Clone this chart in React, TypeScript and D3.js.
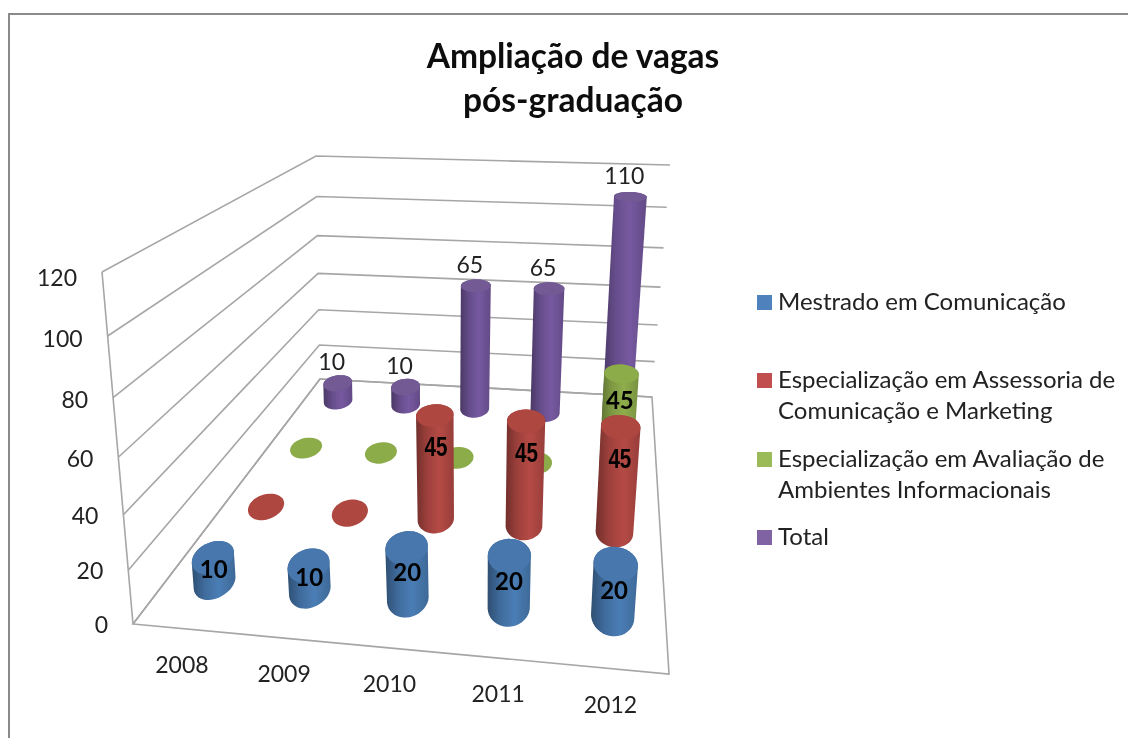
import React from 'react';
import * as d3 from 'd3';

const years = ['2008', '2009', '2010', '2011', '2012'];
const seriesNames = ['Mestrado em Comunicação', 'Especialização em Assessoria de Comunicação e Marketing', 'Especialização em Avaliação de Ambientes Informacionais', 'Total'];
const mestrado = [10, 10, 20, 20, 20];
const assessoria = [0, 0, 45, 45, 45];
const avaliacao = [0, 0, 0, 0, 45];
const total = [10, 10, 65, 65, 110];
const seriesValues = [mestrado, assessoria, avaliacao, total];
const yTicks = [0, 20, 40, 60, 80, 100, 120];
const sideColors = ['#4a7db5', '#b54a45', '#8fae4c', '#7659a0'];
const capColors = ['#4677ad', '#ad463f', '#8cab4a', '#735a95'];
const legendColors = ['#4f81bd', '#c0504d', '#9bbb59', '#8064a2'];
const legendLines = [['Mestrado em Comunicação'], ['Especialização em Assessoria de', 'Comunicação e Marketing'], ['Especialização em Avaliação de', 'Ambientes Informacionais'], ['Total']];
const legendY = [295, 373, 452, 530];
const FONT = 'Lato, "Open Sans", sans-serif';

type P = [number, number];
function quadMap(q: P[]) {
  const [[x0, y0], [x1, y1], [x2, y2], [x3, y3]] = q;
  const dx1 = x1 - x2, dx2 = x3 - x2, sx = x0 - x1 + x2 - x3;
  const dy1 = y1 - y2, dy2 = y3 - y2, sy = y0 - y1 + y2 - y3;
  const det = dx1 * dy2 - dx2 * dy1;
  const g = (sx * dy2 - dx2 * sy) / det, h = (dx1 * sy - sx * dy1) / det;
  const a = x1 - x0 + g * x1, b = x3 - x0 + h * x3, d = y1 - y0 + g * y1, e = y3 - y0 + h * y3;
  return (u: number, v: number): P => {
    const w = g * u + h * v + 1;
    return [(a * u + b * v + x0) / w, (d * u + e * v + y0) / w];
  };
}
const floor = quadMap([[133, 624], [669, 674], [652, 397], [320, 379]]);
const ceil = quadMap([[102, 272], [702, 308], [670, 165], [316, 156]]);
const yScale = d3.scaleLinear().domain([0, 120]).range([0, 1]);
const warp = (t: number) => (t * (1 - 0.1)) / (1 - 0.1 * t);
const project = (u: number, v: number, val: number): P => {
  const a = floor(u, v), b = ceil(u, v), t = warp(yScale(val));
  return [a[0] + (b[0] - a[0]) * t, a[1] + (b[1] - a[1]) * t];
};
const uScale = d3.scaleBand<string>().domain(years).range([0, 1]);
const vScale = d3.scaleBand<number>().domain([0, 1, 2, 3]).range([0, 1]);
const RU = 0.041, RV = 0.05;
const SHEAR = 0.7;
const angles = d3.range(0, 40).map(i => (i / 40) * 2 * Math.PI);
const line = d3.line<P>().curve(d3.curveLinearClosed);

function ringAt(u: number, v: number, h: number): P[] {
  const c = project(u, v, h);
  return angles.map(a => {
    const pu = project(u + RU * Math.cos(a), v, h);
    const pv = project(u, v + RV * Math.sin(a), h);
    return [c[0] + (pu[0] - c[0]) + (pv[0] - c[0]) * SHEAR, c[1] + (pu[1] - c[1]) + (pv[1] - c[1])] as P;
  });
}

function Cylinder({ yi, si }: { yi: number; si: number }) {
  const u = uScale(years[yi])! + uScale.bandwidth() / 2;
  const v = vScale(si)! + vScale.bandwidth() / 2;
  const val = seriesValues[si][yi];
  const bot = ringAt(u, v, 0), top = ringAt(u, v, val);
  const id = `g${si}${yi}`;
  if (val === 0) return <path d={line(bot)!} fill={capColors[si]} />;
  const hull = d3.polygonHull([...bot, ...top])!;
  const xs = d3.extent(hull, p => p[0]) as [number, number];
  const c = d3.color(sideColors[si])!;
  return (
    <g>
      <defs>
        <linearGradient id={id} gradientUnits="userSpaceOnUse" x1={xs[0]} x2={xs[1]} y1={0} y2={0}>
          <stop offset="0" stopColor={c.darker(1.3).toString()} />
          <stop offset="0.3" stopColor={c.darker(0.4).toString()} />
          <stop offset="0.62" stopColor={c.toString()} />
          <stop offset="1" stopColor={c.darker(0.5).toString()} />
        </linearGradient>
      </defs>
      <path d={line(hull as P[])!} fill={`url(#${id})`} />
      <path d={line(top)!} fill={capColors[si]} />
    </g>
  );
}

function DataLabel({ yi, si }: { yi: number; si: number }) {
  const u = uScale(years[yi])! + uScale.bandwidth() / 2;
  const v = vScale(si)! + vScale.bandwidth() / 2;
  const val = seriesValues[si][yi];
  if (val === 0) return null;
  if (si === 3) {
    const [x, y] = project(u, v, val);
    return <text x={x - 6} y={y - 13} textAnchor="middle" fontFamily={FONT} fontSize={23} fill="#222">{val}</text>;
  }
  const [x, y] = project(u, v, val * (si === 1 ? 0.72 : si === 2 ? 0.72 : 0.5));
  return si === 1
    ? <text transform={`translate(${x + 1},${y + 11}) scale(0.86,1.15)`} textAnchor="middle" fontFamily='"Liberation Sans", Arial, sans-serif' fontWeight="bold" fontSize={24} fill="#000">{val}</text>
    : <text x={x} y={y + 8} textAnchor="middle" fontFamily={FONT} fontWeight="bold" fontSize={24} fill="#000">{val}</text>;
}

export default function App() {
  const order: [number, number][] = [];
  for (let si = 3; si >= 0; si--) for (let yi = 0; yi < years.length; yi++) order.push([yi, si]);
  const gridLeft = yTicks.map(t => [project(0, 0, t), project(0, 1, t), project(1, 1, t)] as P[]);
  const floorEdge: P[] = [[0, 0], [1, 0], [1, 1], [0, 1]].map(([u, v]) => project(u, v, 0));
  const axisLine: P[] = [project(0, 0, 0), project(0, 0, 120)];
  return (
    <svg width={1128} height={738} style={{ position: 'absolute', left: 0, top: 0 }}>
      <defs>
        <filter id="soft" x="0" y="0" width="100%" height="100%"><feGaussianBlur stdDeviation="0.45" /></filter>
      </defs>
      <rect width={1128} height={738} fill="#fff" />
      <g filter="url(#soft)">
        <path d="M8.5,738V13.5H1128" fill="none" stroke="#8a8a8a" strokeWidth={3} />
        <text textAnchor="middle" fontFamily={FONT} fontWeight="bold" fontSize={33.5} fill="#111">
          <tspan x={573} y={68}>Ampliação de vagas</tspan>
          <tspan x={573} y={112}>pós-graduação</tspan>
        </text>
        <g fill="none" stroke="#a6a6a6" strokeWidth={1.6}>
          {gridLeft.map((g, i) => <path key={i} d={d3.line()(g)!} />)}
          <path d={d3.line()(axisLine)!} />
          <path d={line(floorEdge)!} />
        </g>
        {yTicks.map(t => {
          const [x, y] = project(0, 0, t);
          return <text key={t} x={x - 25} y={y + 9 + 5 * Math.pow(t / 120, 4)} textAnchor="end" fontFamily={FONT} fontSize={23} fill="#222">{t}</text>;
        })}
        {years.map(yr => {
          const [x, y] = project(uScale(yr)! + uScale.bandwidth() / 2, 0, 0);
          return <text key={yr} x={x - 1} y={y + 44} textAnchor="middle" fontFamily={FONT} fontSize={23} fill="#222">{yr}</text>;
        })}
        {order.map(([yi, si]) => <Cylinder key={`${yi}-${si}`} yi={yi} si={si} />)}
        {order.map(([yi, si]) => <DataLabel key={`${yi}-${si}`} yi={yi} si={si} />)}
        {seriesNames.map((name, i) => (
          <g key={name}>
            <rect x={757} y={legendY[i]} width={15} height={15} fill={legendColors[i]} />
            <text fontFamily={FONT} fontSize={24} fill="#222">
              {legendLines[i].map((l, j) => <tspan key={j} x={778} y={legendY[i] + 15 + j * 30.5}>{l}</tspan>)}
            </text>
          </g>
        ))}
      </g>
    </svg>
  );
}
